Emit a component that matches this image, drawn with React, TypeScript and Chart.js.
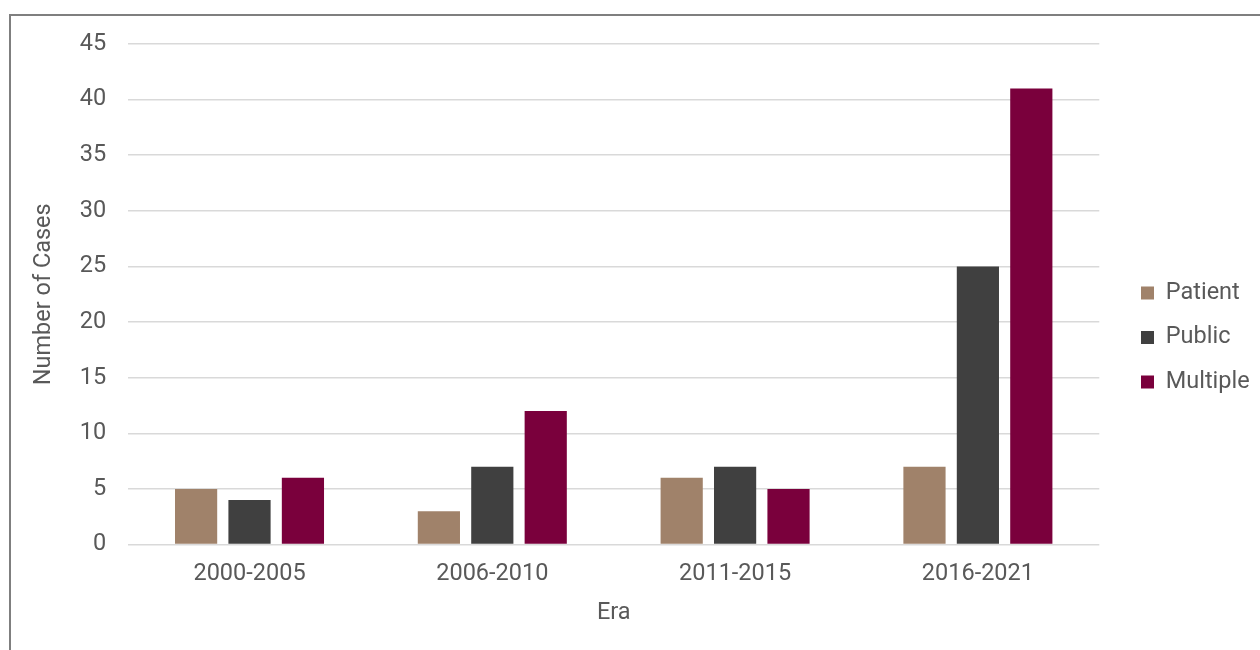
import React, { useEffect, useRef } from "react";
import { Chart, registerables } from "chart.js";

Chart.register(...registerables);

const categories = ["2000-2005", "2006-2010", "2011-2015", "2016-2021"];
const patientValues = [5, 3, 6, 7];
const publicValues = [4, 7, 7, 25];
const multipleValues = [6, 12, 5, 41];
const seriesNames = ["Patient", "Public", "Multiple"];
const seriesColors = ["#A0826A", "#404040", "#7A003C"];
const yTicksMax = 45;
const yTicksStep = 5;

const FONT = "Roboto";
const FS = 23.5;
const TEXT_COLOR = "#595959";
const LEGEND_PAD = 21;
const LEGEND_BOX_X = 1141;

const legendShift = {
  id: "legendShift",
  afterLayout(chart: any) {
    const lg = chart.legend;
    if (lg) {
      const dx = LEGEND_BOX_X - (lg.left + LEGEND_PAD);
      lg.left += dx;
      lg.right += dx;
    }
  },
};

export default function App() {
  const ref = useRef<HTMLCanvasElement | null>(null);

  useEffect(() => {
    document.body.style.margin = "0";
    document.body.style.overflow = "hidden";
    if (!ref.current) return;
    const chart = new Chart(ref.current, {
      type: "bar",
      data: {
        labels: categories,
        datasets: [
          { label: seriesNames[0], data: patientValues, backgroundColor: seriesColors[0] },
          { label: seriesNames[1], data: publicValues, backgroundColor: seriesColors[1] },
          { label: seriesNames[2], data: multipleValues, backgroundColor: seriesColors[2] },
        ],
      },
      options: {
        animation: false,
        responsive: false,
        maintainAspectRatio: false,
        datasets: { bar: { barPercentage: 0.79, categoryPercentage: 0.66 } },
        layout: { padding: { left: 8, top: 44, right: 21, bottom: 19 } },
        plugins: {
          tooltip: { enabled: false },
          legend: {
            position: "right",
            align: "center",
            labels: {
              boxWidth: 13,
              boxHeight: 13,
              padding: LEGEND_PAD,
              color: TEXT_COLOR,
              font: { family: FONT, size: FS },
            },
          },
        },
        scales: {
          x: {
            grid: { display: false, drawTicks: false },
            border: { display: false },
            ticks: { color: TEXT_COLOR, font: { family: FONT, size: FS }, padding: 15, maxRotation: 0 },
            title: {
              display: true,
              text: "Era",
              color: TEXT_COLOR,
              font: { family: FONT, size: FS },
              padding: { top: -4, bottom: 4 },
            },
          },
          y: {
            min: 0,
            max: yTicksMax,
            grid: { color: "#d9d9d9", lineWidth: 1.5, drawTicks: false },
            border: { display: false },
            ticks: {
              stepSize: yTicksStep,
              color: TEXT_COLOR,
              font: { family: FONT, size: FS },
              padding: 22,
            },
            title: {
              display: true,
              text: "Number of Cases",
              color: TEXT_COLOR,
              font: { family: FONT, size: FS },
              padding: { top: 22, bottom: -0.5 },
            },
          },
        },
      },
      plugins: [legendShift],
    });
    return () => chart.destroy();
  }, []);

  return (
    <div style={{ position: "fixed", left: 0, top: 0, width: 1260, height: 650, overflow: "hidden", background: "#fff" }}>
      <div
        style={{
          position: "absolute",
          left: 9,
          top: 14,
          width: 1300,
          height: 700,
          border: "2px solid #7f7f7f",
          boxSizing: "border-box",
        }}
      />
      <canvas ref={ref} width={1260} height={650} style={{ position: "absolute", left: 0, top: 0, width: 1260, height: 650 }} />
    </div>
  );
}
